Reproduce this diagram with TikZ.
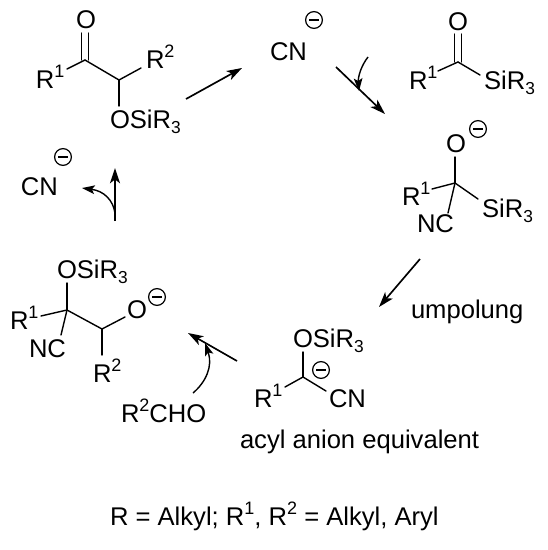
\documentclass[tikz,border=0pt]{standalone}
\usepackage{fontspec}
\setmainfont{Liberation Sans}
\usetikzlibrary{arrows.meta}
\newcommand{\chemsup}[1]{\raisebox{0.42em}{\fontsize{13.5}{14}\selectfont #1}}
\newcommand{\chemsub}[1]{\raisebox{-0.22em}{\fontsize{13}{14}\selectfont #1}}
\newcommand{\silyl}{R\chemsub{3}}
\tikzset{
  >={Stealth[length=11.5pt, width=7.5pt, inset=3pt]},
  every node/.style={font=\fontsize{19.2}{22}\selectfont},
  chemlabel/.style={anchor=base west, inner sep=0pt, outer sep=0pt},
  bond/.style={line width=1.05pt, line cap=round},
  reaction/.style={->, line width=1.25pt},
  curly/.style={->, line width=1.05pt, >={Stealth[length=9.5pt, width=6.5pt, inset=2pt]}},
  anion/.style={
    circle, draw, line width=0.9pt, minimum size=12.6pt, inner sep=0pt,
    path picture={\draw[line width=0.9pt]
      ([xshift=2.6pt]path picture bounding box.west) --
      ([xshift=-2.6pt]path picture bounding box.east);}
  }
}

\begin{document}
\begin{tikzpicture}[x=0.75pt, y=-0.75pt]
\useasboundingbox (0,0) rectangle (547,550);

% ── Keto silyl ether, top left ───────────────────────────────────────────────
\node[chemlabel] (oa) at (76,28) {O};
\node[chemlabel] (ra) at (36,88) {R\chemsup{1}};
\node[chemlabel] (rb) at (146,68) {R\chemsup{2}};
\node[chemlabel] (ota) at (110,128) {OSi\silyl};
\coordinate (ca) at (85,60);
\coordinate (cb) at (119,80);
\draw[bond] (ca) ++(-3.5,0) -- ++(0,-27);
\draw[bond] (ca) ++(3.5,0) -- ++(0,-27);
\draw[bond] (ca) -- (67,69);
\draw[bond] (ca) -- (cb);
\draw[bond] (cb) -- (141,68);
\draw[bond] (cb) -- (119,106);

% ── Cyanide, top ─────────────────────────────────────────────────────────────
\node[chemlabel] (cna) at (270,60) {CN};
\node[anion] (qa) at (314,20) {};

% ── Acyl silane, top right ───────────────────────────────────────────────────
\node[chemlabel] (ob) at (448,30) {O};
\node[chemlabel] (rc) at (409,89) {R\chemsup{1}};
\node[chemlabel] (sa) at (484,89) {Si\silyl};
\coordinate (cc) at (458,62);
\draw[bond] (cc) ++(-3.5,0) -- ++(0,-28);
\draw[bond] (cc) ++(3.5,0) -- ++(0,-28);
\draw[bond] (cc) -- (438,71);
\draw[bond] (cc) -- (480,75);

% ── Alkoxide adduct, right ───────────────────────────────────────────────────
\node[chemlabel] (oc) at (446,152) {O};
\node[anion] (qb) at (478,129) {};
\node[chemlabel] (rd) at (402,205) {R\chemsup{1}};
\node[chemlabel] (sb) at (482,217) {Si\silyl};
\node[chemlabel] (nca) at (417,232) {NC};
\coordinate (cd) at (455,183);
\draw[bond] (cd) -- (455,157);
\draw[bond] (cd) -- (432,189);
\draw[bond] (cd) -- (478,199);
\draw[bond] (cd) -- (448,213);

% ── Acyl anion equivalent, bottom ────────────────────────────────────────────
\node[chemlabel] (otb) at (293,347) {OSi\silyl};
\node[anion] (qc) at (321,370) {};
\node[chemlabel] (re) at (254,407) {R\chemsup{1}};
\node[chemlabel] (cnb) at (329,407) {CN};
\coordinate (ce) at (303,377);
\draw[bond] (ce) -- (303,352);
\draw[bond] (ce) -- (285,387);
\draw[bond] (ce) -- (326,391);
\node[chemlabel] (acyl) at (240,448) {acyl anion equivalent};
\node[chemlabel] (umpol) at (411,318) {umpolung};

% ── Aldehyde adduct, left ────────────────────────────────────────────────────
\node[chemlabel] (otc) at (57,278) {OSi\silyl};
\node[chemlabel] (rf) at (10,329) {R\chemsup{1}};
\node[chemlabel] (ncb) at (29,357) {NC};
\node[chemlabel] (od) at (127,318) {O};
\node[anion] (qd) at (157,297) {};
\node[chemlabel] (rg) at (93,382) {R\chemsup{2}};
\coordinate (cf) at (67,310);
\coordinate (cg) at (102,329);
\draw[bond] (cf) -- (67,283);
\draw[bond] (cf) -- (41,316);
\draw[bond] (cf) -- (61,335);
\draw[bond] (cf) -- (cg);
\draw[bond] (cg) -- (125,317);
\draw[bond] (cg) -- (102,355);

\node[chemlabel] (ald) at (121,422) {R\chemsup{2}CHO};

% ── Cyanide, left ────────────────────────────────────────────────────────────
\node[chemlabel] (cnc) at (21,195) {CN};
\node[anion] (qe) at (63,157) {};

% ── Cycle arrows, clockwise from top left ────────────────────────────────────
\coordinate (a1s) at (186,99);  \coordinate (a1e) at (242,68);
\coordinate (a2s) at (336,67);  \coordinate (a2e) at (385,114);
\coordinate (a3s) at (420,259); \coordinate (a3e) at (379,307);
\coordinate (a4s) at (237,361); \coordinate (a4e) at (188,333);
\coordinate (a5s) at (115,221); \coordinate (a5e) at (115,168);
\draw[reaction] (a1s) -- (a1e);
\draw[reaction] (a2s) -- (a2e);
\draw[reaction] (a3s) -- (a3e);
\draw[reaction] (a4s) -- (a4e);
\draw[reaction] (a5s) -- (a5e);

% Curved arrows: cyanide in, aldehyde in, cyanide out
\coordinate (b1s) at (368,57); \coordinate (b1e) at (359,91);
\coordinate (b2s) at (193,393); \coordinate (b2e) at (205,343);
\coordinate (b3s) at (115,213); \coordinate (b3e) at (82,188);
\draw[curly] (b1s) .. controls (361,66) and (358,77) .. (b1e);
\draw[curly] (b2s) .. controls (206,382) and (213,366) .. (b2e);
\draw[curly] (b3s) .. controls (113,200) and (104,191) .. (b3e);

% ── Footnote ─────────────────────────────────────────────────────────────────
\node[chemlabel] (foot) at (110,525) {R = Alkyl; R\chemsup{1}, R\chemsup{2} = Alkyl, Aryl};

\end{tikzpicture}
\end{document}
